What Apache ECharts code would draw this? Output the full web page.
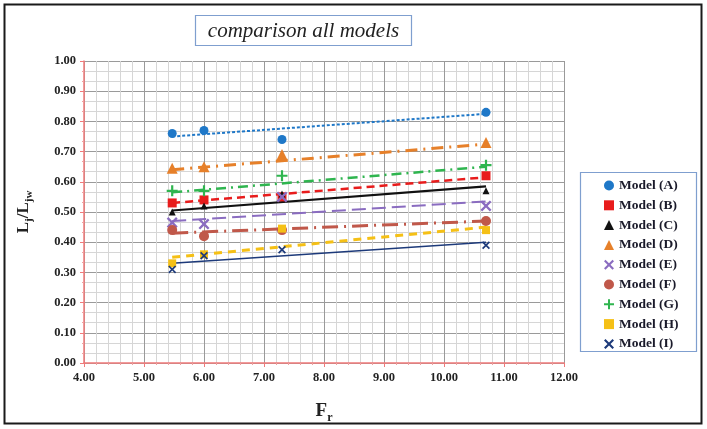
<!DOCTYPE html>
<html>
<head>
<meta charset="utf-8">
<script src="https://cdn.jsdelivr.net/npm/echarts@6/dist/echarts.min.js"></script>
<style>
html,body{margin:0;padding:0;background:#fff;}
#main{width:707px;height:429px;}
</style>
</head>
<body>
<div id="main"></div>
<script>
// ---- data ----
var modelNames = ['Model (A)','Model (B)','Model (C)','Model (D)','Model (E)','Model (F)','Model (G)','Model (H)','Model (I)'];
var frValues = [5.47, 6.0, 7.3, 10.7];
var modelA = [0.76, 0.77, 0.74, 0.83];
var modelB = [0.53, 0.54, 0.55, 0.62];
var modelC = [0.50, 0.52, 0.56, 0.57];
var modelD = [0.645, 0.65, 0.69, 0.73];
var modelE = [0.465, 0.46, 0.55, 0.52];
var modelF = [0.44, 0.42, 0.44, 0.47];
var modelG = [0.57, 0.57, 0.62, 0.655];
var modelH = [0.33, 0.36, 0.445, 0.44];
var modelI = [0.31, 0.355, 0.375, 0.39];
// trend line end values (at first and last Fr)
var trendX = [5.47, 10.7];
var trendA = [0.75, 0.825];
var trendB = [0.53, 0.615];
var trendC = [0.505, 0.585];
var trendD = [0.64, 0.725];
var trendE = [0.47, 0.535];
var trendF = [0.43, 0.47];
var trendG = [0.565, 0.65];
var trendH = [0.35, 0.45];
var trendI = [0.33, 0.40];
var xTicks = [4, 5, 6, 7, 8, 9, 10, 11, 12];
var yTicks = [0, 0.1, 0.2, 0.3, 0.4, 0.5, 0.6, 0.7, 0.8, 0.9, 1.0];

var values = [modelA, modelB, modelC, modelD, modelE, modelF, modelG, modelH, modelI];
var trends = [trendA, trendB, trendC, trendD, trendE, trendF, trendG, trendH, trendI];

var X_PATH = 'path://M0,1.5L1.5,0L5,3.5L8.5,0L10,1.5L6.5,5L10,8.5L8.5,10L5,6.5L1.5,10L0,8.5L3.5,5Z';
var PLUS_PATH = 'path://M4,0H6V4H10V6H6V10H4V6H0V4H4Z';
var styles = [
  {color:'#1f78c8', symbol:'circle', size:9, dash:[3,2], width:2},
  {color:'#e81c1c', symbol:'rect', size:9, dash:[8,5], width:2.5},
  {color:'#111111', symbol:'triangle', size:7, dash:'solid', width:2.2},
  {color:'#e6802a', symbol:'triangle', size:11, dash:[12,6,2,6], width:3},
  {color:'#8a6cc0', symbol:X_PATH, size:11, dash:[14,6], width:2},
  {color:'#c0584a', symbol:'circle', size:10, dash:[16,6,2,6], width:3},
  {color:'#2fb54f', symbol:PLUS_PATH, size:11, dash:[10,5,2,5], width:2.5},
  {color:'#f5c016', symbol:'rect', size:8, dash:[8,6], width:3},
  {color:'#1d3a7a', symbol:X_PATH, size:8, dash:'solid', width:1.5}
];

function pairs(xs, ys){ return xs.map(function(x,i){ return [x, ys[i]]; }); }

var series = [];
modelNames.forEach(function(n, i){
  series.push({
    name: n + ' trend', type:'line', data: pairs(trendX, trends[i]),
    showSymbol:false, symbol:'none', silent:true, z:2,
    lineStyle:{color:styles[i].color, width:styles[i].width, type:styles[i].dash}
  });
});
modelNames.forEach(function(n, i){
  series.push({
    name: n, type:'scatter', data: pairs(frValues, values[i]),
    symbol: styles[i].symbol, symbolSize: styles[i].size, z:3,
    itemStyle:{color:styles[i].color, opacity:1}
  });
});

var serif = 'Liberation Serif';
var chart = echarts.init(document.getElementById('main'), null, {renderer:'canvas'});
chart.setOption({
  animation:false,
  backgroundColor:'#ffffff',
  grid:{left:84, right:143, top:61, bottom:63, show:false},
  legend:{
    data: modelNames, orient:'vertical', left:599, top:173.5, itemWidth:10, itemHeight:10, itemGap:5.8,
    textStyle:{fontFamily:serif, fontWeight:'bold', fontSize:13.5, color:'#1a1a2a', lineHeight:13}
  },
  xAxis:{
    type:'value', min:xTicks[0], max:xTicks[xTicks.length-1], interval:1,
    axisLine:{show:true, onZero:false, lineStyle:{color:'#f07a7a', width:1.5}},
    axisTick:{show:true, length:4, lineStyle:{color:'#f07a7a'}},
    minorTick:{show:true, splitNumber:5, length:2, lineStyle:{color:'#f0a0a0'}},
    splitLine:{show:true, lineStyle:{color:'#9a9a9a', width:1}},
    minorSplitLine:{show:true, lineStyle:{color:'#d6d6d6', width:1}},
    axisLabel:{formatter:function(v){return v.toFixed(2);}, fontFamily:serif, fontWeight:'bold', fontSize:12.5, color:'#222', margin:8},
    name:'{a|F}{b|r}', nameLocation:'middle', nameGap:38,
    nameTextStyle:{rich:{
      a:{fontFamily:serif, fontWeight:'bold', fontSize:19, color:'#222', lineHeight:20, verticalAlign:'bottom'},
      b:{fontFamily:serif, fontWeight:'bold', fontSize:12, color:'#222', lineHeight:14, verticalAlign:'bottom', padding:[0,0,-3,0]}
    }}
  },
  yAxis:{
    type:'value', min:yTicks[0], max:yTicks[yTicks.length-1], interval:0.1,
    axisLine:{show:true, onZero:false, lineStyle:{color:'#f07a7a', width:1.5}},
    axisTick:{show:true, length:4, lineStyle:{color:'#f07a7a'}},
    minorTick:{show:true, splitNumber:3, length:2, lineStyle:{color:'#f0a0a0'}},
    splitLine:{show:true, lineStyle:{color:'#9a9a9a', width:1}},
    minorSplitLine:{show:true, lineStyle:{color:'#d6d6d6', width:1}},
    axisLabel:{formatter:function(v){return v.toFixed(2);}, fontFamily:serif, fontWeight:'bold', fontSize:12.5, color:'#222', margin:8},
    name:'{a|L}{b|j}{a|/L}{b|jw}', nameLocation:'middle', nameGap:52, nameRotate:90,
    nameTextStyle:{rich:{
      a:{fontFamily:serif, fontWeight:'bold', fontSize:17, color:'#222', lineHeight:18, verticalAlign:'bottom'},
      b:{fontFamily:serif, fontWeight:'bold', fontSize:11, color:'#222', lineHeight:12, verticalAlign:'bottom', padding:[0,0,-3,0]}
    }}
  },
  graphic:[
    {type:'rect', shape:{x:4.5, y:4.5, width:697, height:419}, style:{fill:'none', stroke:'#1a1a1a', lineWidth:2}, silent:true},
    {type:'rect', shape:{x:195.5, y:15.5, width:216, height:30}, style:{fill:'#fff', stroke:'#7f9fcf', lineWidth:1.2}, silent:true},
    {type:'text', x:303.5, y:31, style:{text:'comparison all models', fontFamily:serif, fontStyle:'italic', fontSize:21, fill:'#222', align:'center', verticalAlign:'middle'}, silent:true},
    {type:'rect', shape:{x:580.5, y:172.5, width:116, height:179}, style:{fill:'none', stroke:'#7f9fcf', lineWidth:1.2}, silent:true}
  ],
  series: series
});
</script>
</body>
</html>
